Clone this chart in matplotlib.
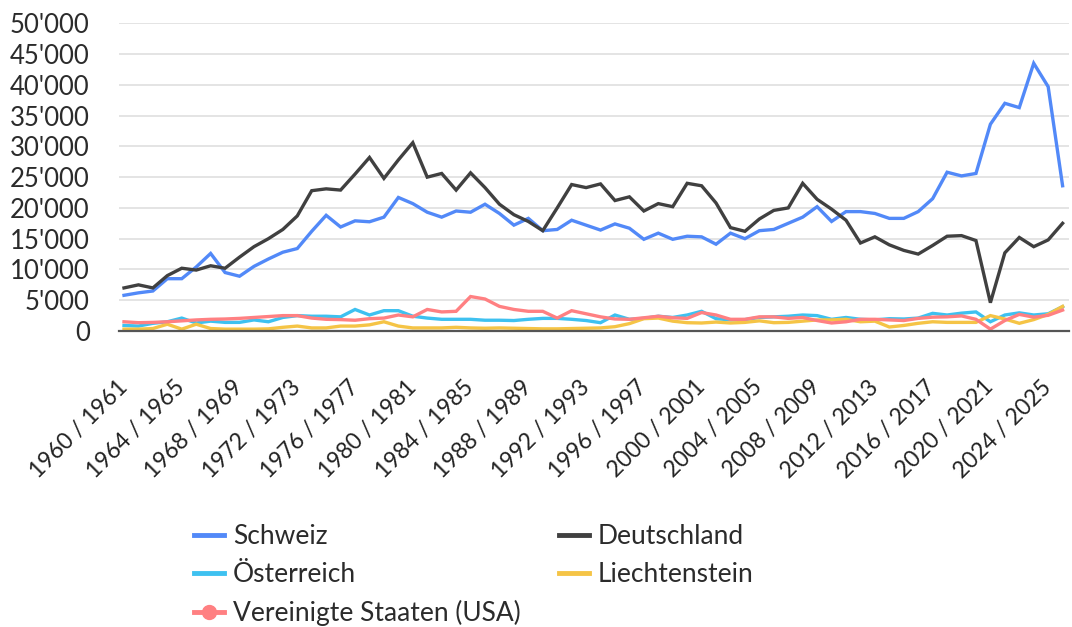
import matplotlib
matplotlib.use("Agg")
import matplotlib.pyplot as plt
from matplotlib.lines import Line2D
from matplotlib.ticker import FuncFormatter, FixedLocator

plt.rcParams['font.family'] = ['Lato', 'DejaVu Sans']

start_years = list(range(1960, 2026))
categories = [f"{y} / {y + 1}" for y in start_years]

schweiz = [5800, 6200, 6500, 8500, 8500, 10400, 12600, 9500, 8900, 10500,
           11700, 12800, 13400, 16200, 18800, 16900, 17900, 17750, 18500, 21700,
           20700, 19300, 18500, 19500, 19300, 20600, 19100, 17200, 18300, 16300,
           16500, 18000, 17200, 16400, 17400, 16700, 14900, 15900, 14900, 15400,
           15300, 14100, 15900, 15000, 16300, 16500, 17500, 18500, 20200, 17800,
           19400, 19400, 19100, 18300, 18300, 19400, 21500, 25800, 25200, 25600,
           33600, 37000, 36300, 43500, 39700, 23600]

deutschland = [7000, 7500, 7000, 9000, 10200, 9900, 10600, 10200, 12000, 13700,
               15000, 16500, 18700, 22800, 23100, 22900, 25500, 28200, 24800, 27800,
               30600, 25000, 25600, 22900, 25700, 23300, 20600, 18900, 17800, 16300,
               20000, 23800, 23300, 23900, 21200, 21800, 19500, 20700, 20200, 24000,
               23600, 20800, 16800, 16200, 18200, 19600, 20000, 24000, 21400, 19800,
               18000, 14300, 15300, 14000, 13100, 12500, 13900, 15400, 15500, 14700,
               4600, 12700, 15200, 13700, 14800, 17500]

oesterreich = [900, 800, 1250, 1500, 2100, 1300, 1600, 1400, 1400, 1800,
               1500, 2200, 2500, 2400, 2400, 2300, 3500, 2600, 3300, 3300,
               2400, 2100, 1900, 1900, 1900, 1750, 1750, 1700, 1900, 2050,
               2050, 1900, 1700, 1350, 2600, 1900, 2050, 2400, 2200, 2600,
               3200, 2000, 1800, 1850, 2200, 2300, 2400, 2600, 2500, 1900,
               2200, 1900, 1800, 2000, 1950, 2100, 2870, 2600, 2900, 3100,
               1500, 2600, 2950, 2600, 2800, 3950]

liechtenstein = [300, 300, 400, 1100, 300, 1100, 400, 300, 300, 300,
                 350, 600, 800, 500, 500, 800, 800, 1000, 1500, 800,
                 500, 500, 500, 600, 500, 450, 500, 450, 400, 350,
                 350, 400, 450, 500, 700, 1200, 2000, 2100, 1600, 1350,
                 1300, 1450, 1300, 1400, 1650, 1350, 1400, 1600, 1800, 1800,
                 1900, 1500, 1600, 650, 900, 1250, 1500, 1400, 1400, 1400,
                 2500, 1950, 1250, 1850, 2700, 4000]

usa = [1500, 1350, 1400, 1500, 1650, 1800, 1900, 1950, 2050, 2200,
       2350, 2500, 2500, 2100, 1900, 1850, 1750, 2000, 2100, 2600,
       2300, 3500, 3100, 3200, 5600, 5200, 4000, 3500, 3200, 3200,
       2100, 3300, 2800, 2300, 1950, 1900, 2150, 2400, 2150, 2050,
       3000, 2600, 1900, 1900, 2300, 2300, 2050, 2200, 1700, 1300,
       1500, 1900, 1900, 1800, 1700, 2050, 2250, 2300, 2450, 1900,
       300, 1700, 2700, 2250, 2550, 3400]

series_names = ["Schweiz", "Deutschland", "Österreich", "Liechtenstein",
                "Vereinigte Staaten (USA)"]
series_values = [schweiz, deutschland, oesterreich, liechtenstein, usa]
colors = ["#5289f8", "#404040", "#3ec1f0", "#f5c446", "#ff8082"]
y_ticks = [0, 5000, 10000, 15000, 20000, 25000, 30000, 35000, 40000, 45000, 50000]

W, H = 1072, 627
fig = plt.figure(figsize=(W / 100, H / 100), dpi=100)
left_px, right_px, top_px, bottom_px = 119, 1069, 23.3, 331
ax = fig.add_axes([left_px / W, 1 - bottom_px / H,
                   (right_px - left_px) / W, (bottom_px - top_px) / H])

x = list(range(len(categories)))
draw_order = [2, 3, 4, 1, 0]
for k in draw_order:
    ax.plot(x, series_values[k], color=colors[k], lw=2.4, solid_joinstyle='miter',
            clip_on=False, zorder=3 + k * 0.1)

step = 14.44
xmin = -5 / step
ax.set_xlim(xmin, xmin + (right_px - left_px) / step)
ax.set_ylim(0, 50000)

ax.yaxis.set_major_locator(FixedLocator(y_ticks))
ax.yaxis.set_major_formatter(FuncFormatter(lambda v, p: f"{v:,.0f}".replace(",", "'")))
ax.grid(axis='y', color='#e4e4e4', lw=1.4, zorder=0)
ax.set_axisbelow(True)

tick_idx = x[::4]
ax.set_xticks(tick_idx)
ax.set_xticklabels([categories[i] for i in tick_idx], rotation=45,
                   ha='right', va='center', rotation_mode='anchor')

for s in ['top', 'right', 'left']:
    ax.spines[s].set_visible(False)
ax.spines['bottom'].set_color('#555555')
ax.spines['bottom'].set_linewidth(1.6)
ax.spines['bottom'].set_zorder(10)

ax.tick_params(axis='y', length=0, pad=21, labelsize=18.5, labelcolor='#2b2b2b')
ax.tick_params(axis='x', length=0, pad=38, labelsize=16.5, labelcolor='#222222')

handles = []
for k in [0, 2, 4, 1, 3]:
    if k == 4:
        h = Line2D([], [], color=colors[k], lw=3.5, marker='o', markersize=10)
    else:
        h = Line2D([], [], color=colors[k], lw=3.5)
    handles.append((h, series_names[k]))

leg = fig.legend([h for h, _ in handles], [n for _, n in handles],
                 ncol=2, loc='upper left', bbox_to_anchor=(194 / W, 1 - 524 / H),
                 frameon=False, fontsize=19, handlelength=1.15, handletextpad=0.32,
                 labelspacing=0.5, columnspacing=1.45, borderaxespad=0, borderpad=0)
for t in leg.get_texts():
    t.set_color('#2b2b2b')

fig.savefig("out.png", dpi=100)
